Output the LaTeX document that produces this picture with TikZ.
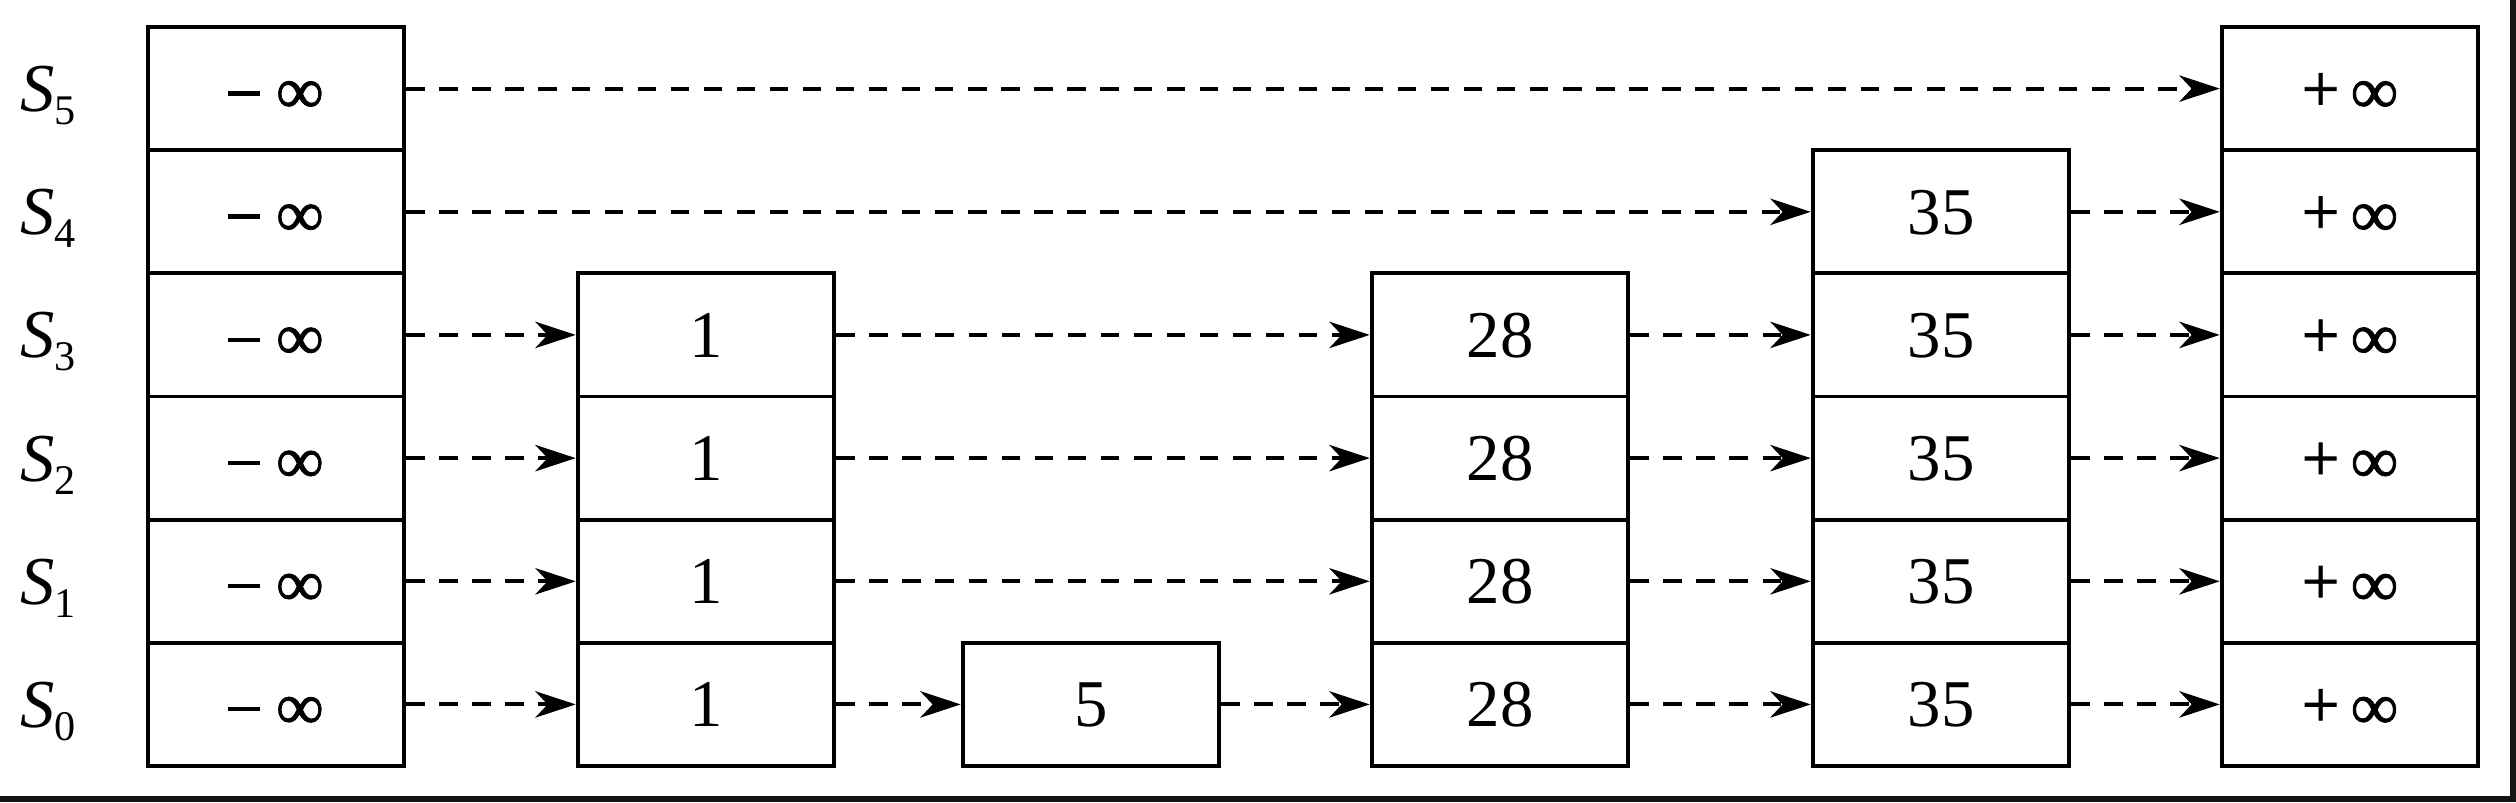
\documentclass[tikz,border=0pt]{standalone}
\usepackage{fontspec}
\setmainfont{Liberation Serif}
\newfontface\infface{Liberation Serif}[FakeBold=1.2]
\usetikzlibrary{arrows.meta}
\newcommand{\mininf}{\rule[4.4pt]{9pt}{1.25pt}\hspace{4.6pt}\raisebox{-0.6pt}{\infface ∞}\hspace{2pt}}
\newcommand{\plusinf}{{\infface +}\hspace{3.2pt}\raisebox{-0.6pt}{\infface ∞}\hspace{1pt}}
\begin{document}
\begin{tikzpicture}[x=0.01cm,y=-0.01cm,
  cell/.style={draw, line width=1.1pt, minimum width=2.565cm, minimum height=1.2317cm, inner sep=0pt, text height=12.8pt, text depth=0pt, font=\fontsize{19}{22}\selectfont},
  link/.style={line width=1.1pt, dash pattern=on 5.2pt off 4.2pt, -{Stealth[length=11.5pt,width=7.5pt,inset=3.5pt]}},
  lab/.style={anchor=base west, inner sep=0pt, font=\fontsize{19.5}{22}\selectfont},
  frame/.style={fill=black!92, draw=none}]
\useasboundingbox (0,0) rectangle (2516,802);
\fill[white] (0,0) rectangle (2516,802);
\fill[frame] (0,796) rectangle (2516,802);
\fill[frame] (2510,0) rectangle (2516,802);
% row labels, -inf and +inf columns
\foreach \r/\y in {5/88.6,4/211.8,3/334.9,2/458.1,1/581.3,0/704.4}{
  \node[lab] (s\r) at (20,\y+23) {\textit{S}\raisebox{-3.7pt}{\fontsize{12}{14}\selectfont \r}};
  \node[cell] (m\r) at (276,\y) {\mininf};
  \node[cell] (p\r) at (2350,\y) {\plusinf};
}
% value 35
\foreach \r/\y in {4/211.8,3/334.9,2/458.1,1/581.3,0/704.4}{
  \node[cell] (t\r) at (1941,\y) {35};
}
% values 1 and 28
\foreach \r/\y in {3/334.9,2/458.1,1/581.3,0/704.4}{
  \node[cell] (o\r) at (706,\y) {1};
  \node[cell] (e\r) at (1500,\y) {28};
}
% value 5
\node[cell] (f0) at (1091,704.4) {5};
% links
\draw[link] (m5) -- (p5);
\draw[link] (m4) -- (t4);
\draw[link] (t4) -- (p4);
\foreach \r in {3,2,1}{
  \draw[link] (m\r) -- (o\r);
  \draw[link] (o\r) -- (e\r);
  \draw[link] (e\r) -- (t\r);
  \draw[link] (t\r) -- (p\r);
}
\draw[link] (m0) -- (o0);
\draw[link] (o0) -- (f0);
\draw[link] (f0) -- (e0);
\draw[link] (e0) -- (t0);
\draw[link] (t0) -- (p0);
\end{tikzpicture}
\end{document}
